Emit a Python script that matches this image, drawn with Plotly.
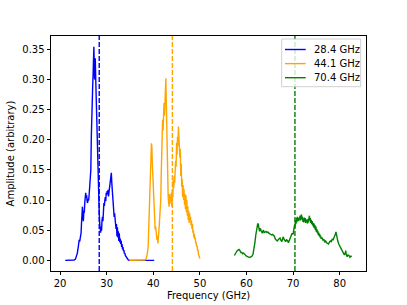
import plotly.graph_objects as go

# ---- data ----
labels = ["28.4 GHz", "44.1 GHz", "70.4 GHz"]
center_freqs = [28.4, 44.1, 70.4]
colors = ["#0000ff", "#ffa500", "#008000"]

x_28 = [21.1, 21.5, 22.0, 22.5, 23.0, 23.3, 23.5, 23.7, 23.9, 24.0, 24.1, 24.2, 24.3, 24.4,
        24.5, 24.6, 24.7, 24.8, 24.9, 25.0, 25.1, 25.2, 25.3, 25.4, 25.5, 25.6, 25.7, 25.8,
        25.9, 26.0, 26.1, 26.2, 26.3, 26.4, 26.5, 26.6, 26.7, 26.8, 26.9, 27.0, 27.1, 27.2,
        27.25, 27.3, 27.4, 27.5, 27.55, 27.6, 27.7, 27.8, 27.85, 27.9, 28.0, 28.1, 28.2, 28.3,
        28.4, 28.5, 28.6, 28.7, 28.8, 28.9, 29.0, 29.1, 29.2, 29.3, 29.4, 29.5, 29.6, 29.7,
        29.8, 29.9, 30.0, 30.1, 30.2, 30.3, 30.4, 30.5, 30.6, 30.7, 30.8, 30.9, 31.0, 31.1,
        31.2, 31.3, 31.4, 31.5, 31.6, 31.7, 31.8, 31.9, 32.0, 32.1, 32.2, 32.3, 32.4, 32.5,
        32.6, 32.7, 32.8, 32.9, 33.0, 33.1, 33.2, 33.3, 33.4, 33.5, 33.6, 33.7, 33.8, 33.9,
        34.0, 34.2, 34.4, 34.6, 34.8, 35.5, 36.5, 37.5, 38.5, 39.5, 40.2]
y_28 = [0, 0, 0, 0, 0.0005, 0.002, 0.006, 0.012, 0.022, 0.030, 0.034, 0.031, 0.036, 0.034,
        0.045, 0.062, 0.078, 0.089, 0.072, 0.065, 0.082, 0.079, 0.096, 0.104, 0.112, 0.103, 0.108, 0.098,
        0.095, 0.102, 0.099, 0.105, 0.118, 0.132, 0.145, 0.150, 0.205, 0.255, 0.248, 0.290, 0.312, 0.330,
        0.354, 0.338, 0.300, 0.325, 0.335, 0.318, 0.285, 0.250, 0.233, 0.265, 0.215, 0.172, 0.150, 0.105,
        0.079, 0.062, 0.052, 0.046, 0.055, 0.049, 0.066, 0.072, 0.065, 0.080, 0.095, 0.090, 0.099, 0.105,
        0.098, 0.112, 0.108, 0.115, 0.110, 0.117, 0.106, 0.113, 0.122, 0.118, 0.128, 0.136, 0.145, 0.128,
        0.118, 0.101, 0.092, 0.080, 0.072, 0.078, 0.061, 0.058, 0.052, 0.060, 0.040, 0.055, 0.038, 0.048,
        0.032, 0.045, 0.030, 0.036, 0.027, 0.033, 0.022, 0.027, 0.018, 0.022, 0.015, 0.017, 0.011, 0.012,
        0.008, 0.005, 0.003, 0.001, 0, 0, 0, 0, 0, 0, 0]

x_44 = [34.9, 35.5, 36.5, 37.5, 38.2, 38.5, 38.7, 38.9, 39.0, 39.1, 39.2, 39.3, 39.4, 39.5,
        39.6, 39.65, 39.7, 39.8, 39.9, 40.0, 40.1, 40.2, 40.3, 40.4, 40.5, 40.6, 40.7, 40.8,
        40.9, 41.0, 41.1, 41.2, 41.3, 41.4, 41.5, 41.6, 41.7, 41.8, 41.9, 42.0, 42.1, 42.2,
        42.3, 42.4, 42.5, 42.6, 42.7, 42.75, 42.8, 42.9, 43.0, 43.1, 43.2, 43.3, 43.4, 43.5,
        43.6, 43.7, 43.8, 43.9, 44.0, 44.1, 44.2, 44.3, 44.4, 44.5, 44.6, 44.7, 44.8, 44.9,
        45.0, 45.1, 45.2, 45.3, 45.4, 45.5, 45.6, 45.7, 45.8, 45.9, 46.0, 46.1, 46.2, 46.3,
        46.4, 46.5, 46.6, 46.7, 46.8, 46.9, 47.0, 47.1, 47.2, 47.3, 47.4, 47.5, 47.6, 47.7,
        47.8, 47.9, 48.0, 48.1, 48.2, 48.3, 48.4, 48.5, 48.6, 48.7, 48.8, 48.9, 49.0, 49.1,
        49.2, 49.3, 49.4, 49.5, 49.6, 49.7, 49.8, 49.9, 50.0]
y_44 = [0, 0, 0, 0, 0.0005, 0.003, 0.010, 0.023, 0.045, 0.070, 0.090, 0.120, 0.139, 0.170,
        0.194, 0.180, 0.188, 0.160, 0.139, 0.110, 0.085, 0.070, 0.062, 0.051, 0.056, 0.042, 0.038, 0.034,
        0.040, 0.028, 0.038, 0.045, 0.060, 0.073, 0.088, 0.100, 0.140, 0.178, 0.200, 0.233, 0.215, 0.245,
        0.261, 0.240, 0.275, 0.285, 0.302, 0.280, 0.250, 0.200, 0.160, 0.122, 0.105, 0.095, 0.089, 0.110,
        0.098, 0.106, 0.094, 0.112, 0.089, 0.118, 0.105, 0.133, 0.120, 0.140, 0.128, 0.150, 0.165, 0.155,
        0.195, 0.175, 0.205, 0.190, 0.222, 0.200, 0.210, 0.170, 0.185, 0.140, 0.160, 0.122, 0.135, 0.105,
        0.125, 0.100, 0.118, 0.092, 0.110, 0.085, 0.108, 0.080, 0.100, 0.074, 0.090, 0.067, 0.082, 0.062,
        0.078, 0.065, 0.072, 0.058, 0.066, 0.052, 0.060, 0.046, 0.050, 0.038, 0.044, 0.035, 0.038, 0.028,
        0.030, 0.023, 0.025, 0.016, 0.018, 0.010, 0.008, 0.004, 0.003]

x_70 = [57.4, 57.6, 57.8, 58.0, 58.2, 58.4, 58.6, 58.8, 59.0, 59.2, 59.4, 59.6, 59.8, 60.0,
        60.2, 60.4, 60.6, 60.8, 61.0, 61.2, 61.4, 61.6, 61.8, 62.0, 62.2, 62.4, 62.5, 62.6,
        62.7, 62.8, 62.9, 63.0, 63.1, 63.2, 63.3, 63.4, 63.5, 63.6, 63.7, 63.8, 64.0, 64.2,
        64.4, 64.6, 64.8, 65.0, 65.2, 65.4, 65.6, 65.8, 66.0, 66.2, 66.4, 66.6, 66.8, 67.0,
        67.2, 67.4, 67.6, 67.8, 67.9, 68.0, 68.2, 68.4, 68.6, 68.8, 69.0, 69.2, 69.4, 69.6,
        69.8, 70.0, 70.1, 70.2, 70.3, 70.4, 70.5, 70.6, 70.7, 70.8, 70.9, 71.0, 71.1, 71.2,
        71.3, 71.4, 71.5, 71.6, 71.7, 71.8, 71.9, 72.0, 72.1, 72.2, 72.3, 72.4, 72.5, 72.6,
        72.7, 72.8, 72.9, 73.0, 73.1, 73.2, 73.3, 73.4, 73.5, 73.6, 73.7, 73.8, 73.9, 74.0,
        74.1, 74.2, 74.3, 74.4, 74.5, 74.6, 74.7, 74.8, 74.9, 75.0, 75.1, 75.2, 75.3, 75.4,
        75.5, 75.6, 75.7, 75.8, 75.9, 76.0, 76.2, 76.4, 76.6, 76.8, 77.0, 77.2, 77.4, 77.6,
        77.8, 78.0, 78.2, 78.4, 78.6, 78.8, 79.0, 79.1, 79.2, 79.3, 79.4, 79.5, 79.6, 79.8,
        80.0, 80.2, 80.4, 80.6, 80.8, 81.0, 81.2, 81.3, 81.4, 81.6, 81.8, 82.0, 82.2, 82.4, 82.6]
y_70 = [0.008, 0.011, 0.014, 0.016, 0.017, 0.018, 0.016, 0.013, 0.013, 0.011, 0.012, 0.010, 0.009, 0.007,
        0.006, 0.005, 0.005, 0.005, 0.006, 0.007, 0.010, 0.018, 0.029, 0.042, 0.056, 0.060, 0.061, 0.057,
        0.052, 0.048, 0.051, 0.053, 0.050, 0.047, 0.049, 0.045, 0.048, 0.050, 0.049, 0.046, 0.047, 0.048,
        0.046, 0.047, 0.045, 0.044, 0.043, 0.042, 0.043, 0.041, 0.040, 0.035, 0.033, 0.032, 0.034, 0.036,
        0.037, 0.033, 0.031, 0.037, 0.039, 0.036, 0.032, 0.031, 0.034, 0.033, 0.029, 0.033, 0.036, 0.040,
        0.045, 0.043, 0.050, 0.048, 0.058, 0.054, 0.067, 0.060, 0.070, 0.063, 0.072, 0.066, 0.071, 0.065,
        0.070, 0.068, 0.074, 0.066, 0.073, 0.076, 0.068, 0.072, 0.064, 0.069, 0.063, 0.071, 0.065, 0.070,
        0.062, 0.068, 0.064, 0.066, 0.061, 0.069, 0.063, 0.072, 0.074, 0.066, 0.070, 0.062, 0.067, 0.060,
        0.065, 0.058, 0.062, 0.055, 0.061, 0.053, 0.058, 0.050, 0.056, 0.047, 0.052, 0.045, 0.049, 0.042,
        0.046, 0.040, 0.044, 0.038, 0.041, 0.036, 0.038, 0.033, 0.035, 0.030, 0.032, 0.029, 0.028, 0.027,
        0.030, 0.032, 0.031, 0.035, 0.034, 0.037, 0.040, 0.044, 0.047, 0.042, 0.038, 0.034, 0.032, 0.027,
        0.024, 0.019, 0.016, 0.013, 0.011, 0.009, 0.012, 0.016, 0.010, 0.006, 0.009, 0.008, 0.005, 0.007, 0.006]

x_ticks = [20, 30, 40, 50, 60, 70, 80]
y_ticks = [0.00, 0.05, 0.10, 0.15, 0.20, 0.25, 0.30, 0.35]

series = [(x_28, y_28), (x_44, y_44), (x_70, y_70)]

FONT = "DejaVu Sans"
FS = 10
W, H = 407, 305
ML, MR, MT, MB = 51, 41, 36, 34
PW, PH = W - ML - MR, H - MT - MB


def px_to_paper_x(px):
    return (px - ML) / PW


def px_to_paper_y(py):
    return (H - MB - py) / PH


fig = go.Figure()
for (xs, ys), name, c in zip(series, labels, colors):
    fig.add_trace(go.Scatter(x=xs, y=ys, mode="lines", name=name, showlegend=False,
                             line=dict(color=c, width=1.4)))

for f, c in zip(center_freqs, colors):
    fig.add_vline(x=f, line=dict(color=c, width=1.4, dash="5px,2px"))

# legend (matplotlib-style compact box, upper right)
lx0, lx1, ly0, ly1 = 281.7, 360.7, 39.0, 86.7
fig.add_shape(type="rect", xref="paper", yref="paper",
              x0=px_to_paper_x(lx0), x1=px_to_paper_x(lx1),
              y0=px_to_paper_y(ly1), y1=px_to_paper_y(ly0),
              fillcolor="rgba(255,255,255,0.8)", line=dict(color="#cccccc", width=0.9))
for i, (name, c) in enumerate(zip(labels, colors)):
    ry = 49.5 + 14.1 * i
    fig.add_shape(type="line", xref="paper", yref="paper",
                  x0=px_to_paper_x(285.0), x1=px_to_paper_x(305.7),
                  y0=px_to_paper_y(ry), y1=px_to_paper_y(ry),
                  line=dict(color=c, width=1.4))
    fig.add_annotation(x=px_to_paper_x(312.5), y=px_to_paper_y(ry), xref="paper", yref="paper",
                       text=name, showarrow=False, xanchor="left", yanchor="middle",
                       font=dict(family=FONT, size=FS, color="black"), borderpad=0)

axis_common = dict(showline=True, linecolor="black", linewidth=0.9, mirror=True,
                   ticks="outside", ticklen=3.5, tickwidth=0.9, tickcolor="black",
                   showgrid=False, zeroline=False, automargin=False,
                   tickfont=dict(family=FONT, size=FS, color="black"))

fig.update_xaxes(range=[18.05, 85.65], tickvals=x_ticks,
                 ticktext=[str(t) for t in x_ticks],
                 title=dict(text="Frequency (GHz)", font=dict(family=FONT, size=FS, color="black"),
                            standoff=3),
                 **axis_common)
fig.update_yaxes(range=[-0.0177, 0.372], tickvals=y_ticks,
                 ticktext=[f"{t:.2f}" for t in y_ticks],
                 title=dict(text="Amplitude (arbitrary)", font=dict(family=FONT, size=FS, color="black"),
                            standoff=5),
                 **axis_common)

fig.update_layout(
    width=W, height=H,
    margin=dict(l=ML, r=MR, t=MT, b=MB, pad=0),
    plot_bgcolor="white", paper_bgcolor="white",
    font=dict(family=FONT, size=FS, color="black"),
    showlegend=False,
)

fig.write_html("out.html", config={"displayModeBar": False},
               post_script="document.body.style.margin='0px';document.body.style.padding='0px';")
